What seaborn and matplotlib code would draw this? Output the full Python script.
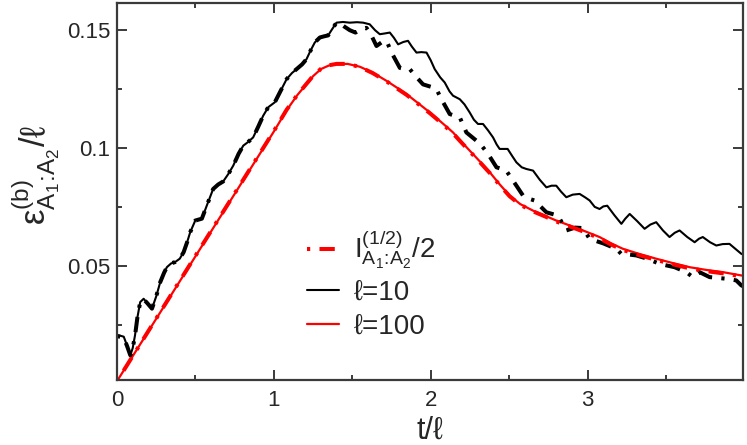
import matplotlib

matplotlib.use("Agg")
import matplotlib.pyplot as plt
import pandas as pd
import seaborn as sns

# t/l values and epsilon/l readings, l = 10 (negativity, oscillating)
T_L10 = [
    0.000, 0.011, 0.043, 0.065, 0.085, 0.100, 0.115, 0.130, 0.148, 0.170,
    0.195, 0.223, 0.250, 0.276, 0.300, 0.318, 0.345, 0.371, 0.400, 0.425,
    0.447, 0.467, 0.499, 0.541, 0.575, 0.613, 0.645, 0.677, 0.710, 0.741,
    0.775, 0.805, 0.835, 0.868, 0.900, 0.932, 0.964, 1.006, 1.045, 1.081,
    1.115, 1.145, 1.180, 1.208, 1.235, 1.261, 1.293, 1.320, 1.346, 1.372,
    1.399, 1.440, 1.484, 1.530, 1.569, 1.611, 1.645, 1.675, 1.705, 1.739,
    1.765, 1.792, 1.825, 1.855, 1.880, 1.909, 1.940, 1.973, 2.000, 2.025,
    2.060, 2.089, 2.120, 2.142, 2.185, 2.215, 2.248, 2.275, 2.301, 2.333,
    2.365, 2.397, 2.420, 2.439, 2.490, 2.520, 2.546, 2.580, 2.609, 2.652,
    2.695, 2.737, 2.770, 2.800, 2.830, 2.864, 2.905, 2.949, 2.985, 3.013,
    3.045, 3.076, 3.100, 3.125, 3.170, 3.215, 3.240, 3.268, 3.315, 3.363,
    3.400, 3.437, 3.480, 3.522, 3.555, 3.586, 3.635, 3.682, 3.710, 3.734,
    3.780, 3.820, 3.860, 3.904, 3.945, 3.979, 4.000,
]
EPS_L10 = [
    0.0205, 0.0205, 0.0199, 0.0160, 0.0120, 0.0150, 0.0205, 0.0280, 0.0346, 0.0360,
    0.0340, 0.0318, 0.0370, 0.0431, 0.0470, 0.0494, 0.0510, 0.0516, 0.0530, 0.0558,
    0.0600, 0.0643, 0.0692, 0.0700, 0.0760, 0.0826, 0.0845, 0.0858, 0.0890, 0.0925,
    0.0975, 0.1010, 0.1025, 0.1045, 0.1090, 0.1137, 0.1173, 0.1194, 0.1245, 0.1292,
    0.1318, 0.1335, 0.1355, 0.1377, 0.1415, 0.1448, 0.1469, 0.1474, 0.1478, 0.1505,
    0.1532, 0.1535, 0.1532, 0.1534, 0.1532, 0.1525, 0.1500, 0.1483, 0.1486, 0.1490,
    0.1468, 0.1440, 0.1450, 0.1455, 0.1430, 0.1405, 0.1407, 0.1405, 0.1372, 0.1335,
    0.1300, 0.1278, 0.1240, 0.1222, 0.1207, 0.1185, 0.1151, 0.1120, 0.1102, 0.1102,
    0.1075, 0.1045, 0.1015, 0.0996, 0.0996, 0.0965, 0.0939, 0.0918, 0.0911, 0.0904,
    0.0865, 0.0833, 0.0840, 0.0840, 0.0815, 0.0791, 0.0802, 0.0805, 0.0790, 0.0777,
    0.0750, 0.0741, 0.0752, 0.0755, 0.0715, 0.0678, 0.0700, 0.0720, 0.0690, 0.0657,
    0.0675, 0.0685, 0.0650, 0.0622, 0.0640, 0.0650, 0.0622, 0.0600, 0.0615, 0.0622,
    0.0600, 0.0586, 0.0592, 0.0593, 0.0570, 0.0551, 0.0545,
]

# l = 10, Renyi-1/2 mutual information / 2 (dash-dot)
T_I10 = [
    0.000, 0.011, 0.043, 0.065, 0.085, 0.100, 0.115, 0.130, 0.148, 0.170,
    0.195, 0.223, 0.250, 0.276, 0.300, 0.318, 0.345, 0.371, 0.400, 0.425,
    0.447, 0.467, 0.499, 0.541, 0.575, 0.613, 0.645, 0.677, 0.710, 0.741,
    0.775, 0.805, 0.835, 0.868, 0.900, 0.932, 0.964, 1.006, 1.045, 1.081,
    1.115, 1.145, 1.180, 1.208, 1.235, 1.261, 1.293, 1.320, 1.346, 1.372,
    1.399, 1.420, 1.450, 1.484, 1.520, 1.560, 1.590, 1.620, 1.654, 1.690,
    1.718, 1.750, 1.803, 1.835, 1.866, 1.910, 1.951, 2.000, 2.036, 2.068,
    2.121, 2.185, 2.227, 2.291, 2.330, 2.365, 2.419, 2.480, 2.546, 2.588,
    2.625, 2.662, 2.737, 2.811, 2.864, 2.920, 2.970, 3.013, 3.100, 3.183,
    3.215, 3.260, 3.310, 3.380, 3.459, 3.554, 3.629, 3.670, 3.713, 3.777,
    3.883, 3.947, 3.979, 4.000,
]
MI_I10 = [
    0.0200, 0.0200, 0.0195, 0.0158, 0.0120, 0.0150, 0.0203, 0.0280, 0.0346, 0.0358,
    0.0340, 0.0318, 0.0370, 0.0431, 0.0470, 0.0494, 0.0510, 0.0516, 0.0530, 0.0558,
    0.0600, 0.0643, 0.0692, 0.0700, 0.0760, 0.0826, 0.0845, 0.0858, 0.0890, 0.0925,
    0.0975, 0.1010, 0.1025, 0.1045, 0.1090, 0.1137, 0.1173, 0.1194, 0.1245, 0.1292,
    0.1318, 0.1335, 0.1355, 0.1377, 0.1415, 0.1448, 0.1469, 0.1474, 0.1478, 0.1505,
    0.1532, 0.1530, 0.1515, 0.1500, 0.1490, 0.1505, 0.1510, 0.1480, 0.1433, 0.1450,
    0.1455, 0.1405, 0.1340, 0.1335, 0.1335, 0.1300, 0.1270, 0.1260, 0.1250, 0.1207,
    0.1144, 0.1130, 0.1066, 0.1031, 0.1005, 0.0975, 0.0918, 0.0905, 0.0840, 0.0798,
    0.0785, 0.0777, 0.0727, 0.0713, 0.0650, 0.0662, 0.0660, 0.0614, 0.0595, 0.0572,
    0.0550, 0.0548, 0.0544, 0.0530, 0.0508, 0.0494, 0.0473, 0.0452, 0.0473, 0.0452,
    0.0445, 0.0438, 0.0417, 0.0410,
]

# l = 100, negativity (solid red)
T_L100 = [
    0.000, 0.250, 0.500, 0.750, 1.000, 1.081, 1.150, 1.200, 1.250, 1.300,
    1.350, 1.400, 1.470, 1.548, 1.630, 1.718, 1.780, 1.845, 1.920, 1.994,
    2.070, 2.142, 2.200, 2.248, 2.310, 2.376, 2.440, 2.503, 2.570, 2.652,
    2.730, 2.800, 2.890, 2.970, 3.076, 3.150, 3.225, 3.330, 3.437, 3.540,
    3.650, 3.760, 3.862, 3.979, 4.000,
]
EPS_L100 = [
    0.0010, 0.0275, 0.0540, 0.0805, 0.1070, 0.1160, 0.1225, 0.1265, 0.1305, 0.1335,
    0.1350, 0.1356, 0.1357, 0.1345, 0.1320, 0.1285, 0.1258, 0.1229, 0.1190, 0.1151,
    0.1108, 0.1066, 0.1023, 0.0989, 0.0945, 0.0897, 0.0845, 0.0798, 0.0762, 0.0734,
    0.0712, 0.0692, 0.0670, 0.0650, 0.0622, 0.0595, 0.0572, 0.0550, 0.0530, 0.0512,
    0.0494, 0.0482, 0.0473, 0.0459, 0.0457,
]

# l = 100, mutual information / 2 (dash-dot red)
T_I100 = [
    0.000, 0.250, 0.500, 0.750, 1.000, 1.081, 1.150, 1.200, 1.250, 1.300,
    1.350, 1.400, 1.470, 1.548, 1.630, 1.718, 1.780, 1.845, 1.920, 1.994,
    2.070, 2.142, 2.200, 2.248, 2.310, 2.376, 2.440, 2.503, 2.570, 2.652,
    2.730, 2.800, 2.890, 2.970, 3.076, 3.150, 3.225, 3.330, 3.437, 3.540,
    3.650, 3.760, 3.862, 3.979, 4.000,
]
MI_I100 = [
    0.0010, 0.0276, 0.0542, 0.0807, 0.1072, 0.1162, 0.1226, 0.1266, 0.1306, 0.1336,
    0.1351, 0.1357, 0.1357, 0.1344, 0.1318, 0.1283, 0.1255, 0.1226, 0.1187, 0.1148,
    0.1105, 0.1062, 0.1020, 0.0986, 0.0942, 0.0894, 0.0842, 0.0795, 0.0759, 0.0731,
    0.0709, 0.0688, 0.0666, 0.0646, 0.0617, 0.0590, 0.0567, 0.0545, 0.0525, 0.0507,
    0.0489, 0.0477, 0.0468, 0.0455, 0.0453,
]

X_TICKS = [0, 1, 2, 3]
X_TICK_LABELS = ["0", "1", "2", "3"]
X_MINOR = [0.5, 1.5, 2.5, 3.5]
Y_TICKS = [0.05, 0.1, 0.15]
Y_TICK_LABELS = ["0.05", "0.1", "0.15"]
Y_MINOR = [0.025, 0.075, 0.125]

LEGEND_LABELS = [r"$I^{(1/2)}_{A_1\!:\!A_2}/2$", "\u2113=10", "\u2113=100"]


def main() -> None:
    sns.set_style("ticks")
    # set font list after seaborn so it is not overwritten
    plt.rcParams["font.family"] = ["Liberation Sans", "DejaVu Sans"]
    plt.rcParams["mathtext.fontset"] = "custom"
    plt.rcParams["mathtext.rm"] = "Liberation Sans"
    plt.rcParams["mathtext.it"] = "Liberation Sans:italic"
    plt.rcParams["mathtext.default"] = "regular"

    fig = plt.figure(figsize=(7.47, 4.45), dpi=100)
    ax = fig.add_axes([0.1566, 0.146, 0.838, 0.847])

    dashdot = (0, (0.8, 2.3, 3.8, 2.3))
    l10 = pd.DataFrame({"t": T_L10, "eps": EPS_L10})
    i10 = pd.DataFrame({"t": T_I10, "eps": MI_I10})
    l100 = pd.DataFrame({"t": T_L100, "eps": EPS_L100})
    i100 = pd.DataFrame({"t": T_I100, "eps": MI_I100})

    sns.lineplot(data=l10, x="t", y="eps", ax=ax, color="black", linewidth=1.5,
                 estimator=None, sort=False, label=LEGEND_LABELS[1])
    sns.lineplot(data=l100, x="t", y="eps", ax=ax, color="#ff0000", linewidth=1.6,
                 estimator=None, sort=False, label=LEGEND_LABELS[2])
    sns.lineplot(data=i10, x="t", y="eps", ax=ax, color="black", linewidth=2.9,
                 linestyle=dashdot, estimator=None, sort=False, label="_nolegend_")
    sns.lineplot(data=i100, x="t", y="eps", ax=ax, color="#ff0000", linewidth=2.9,
                 linestyle=dashdot, estimator=None, sort=False, label=LEGEND_LABELS[0])

    ax.set_xlim(0, 3.99)
    ax.set_ylim(0.0015, 0.1615)
    ax.set_xticks(X_TICKS)
    ax.set_xticklabels(X_TICK_LABELS)
    ax.set_xticks(X_MINOR, minor=True)
    ax.set_yticks(Y_TICKS)
    ax.set_yticklabels(Y_TICK_LABELS)
    ax.set_yticks(Y_MINOR, minor=True)

    spine_col = "#3a3a3a"
    for sp in ax.spines.values():
        sp.set_visible(True)
        sp.set_color(spine_col)
        sp.set_linewidth(1.6)
    ax.tick_params(which="both", direction="in", top=True, right=True,
                   color=spine_col, width=1.4, labelsize=16)
    ax.tick_params(which="major", length=7.5)
    ax.tick_params(which="minor", length=3.5)
    ax.tick_params(axis="x", pad=7)
    ax.tick_params(axis="y", pad=5)

    ax.set_xlabel("t/\u2113", fontsize=22)
    ax.set_ylabel(r"$\varepsilon^{(b)}_{A_1\!:\!A_2}/\ell$", fontsize=25)
    ax.xaxis.set_label_coords(0.5, -0.095)
    ax.yaxis.set_label_coords(-0.088, 0.545)

    handles, labels = ax.get_legend_handles_labels()
    order = [labels.index(lab) for lab in LEGEND_LABELS]
    ax.legend([handles[i] for i in order], [labels[i] for i in order],
              loc="upper left", bbox_to_anchor=(0.303, 0.40), frameon=False,
              fontsize=20, handlelength=1.15, handletextpad=0.55,
              labelspacing=0.3, borderpad=0, borderaxespad=0)

    fig.savefig("out.png", dpi=100)
    plt.close(fig)


if __name__ == "__main__":
    main()
